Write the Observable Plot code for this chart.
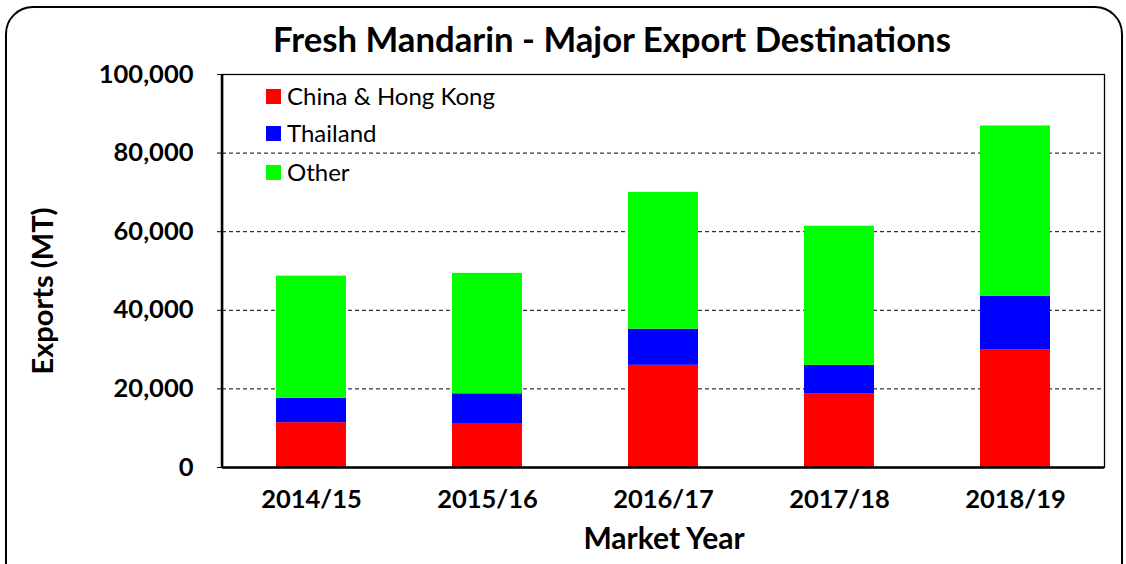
<!DOCTYPE html>
<html>
<head>
<meta charset="utf-8">
<script src="https://cdn.jsdelivr.net/npm/d3@7"></script>
<script src="https://cdn.jsdelivr.net/npm/@observablehq/plot@0.6"></script>
<style>
  html, body { margin: 0; padding: 0; background: #fff; }
  #wrap { position: relative; width: 1126px; height: 564px; overflow: hidden; font-family: Lato, "Open Sans", sans-serif; }
  #border { position: absolute; left: 5px; top: 6px; width: 1118px; height: 600px; border: 2.5px solid #000; border-radius: 28px; box-sizing: border-box; pointer-events: none; }
  #chart { position: absolute; left: 0; top: 0; }
  .t { position: absolute; color: #000; white-space: nowrap; line-height: 1; }
  #title { left: 0; width: 1224px; text-align: center; top: 22px; font-size: 34.7px; font-weight: 700; }
  #xlabel { left: 0; width: 1328px; text-align: center; top: 522px; font-size: 30px; font-weight: 700; }
  #ylabel { left: 41px; top: 291px; font-size: 29px; font-weight: 700; transform: translate(-50%, -50%) rotate(-90deg); }
  .leg { position: absolute; left: 266px; font-size: 24px; line-height: 1.2; display: flex; align-items: center; }
  .sw { width: 15px; height: 15px; margin-right: 6px; }
</style>
</head>
<body>
<div id="wrap">
  <div id="chart"></div>
  <div id="border"></div>
  <div class="t" id="title">Fresh Mandarin - Major Export Destinations</div>
  <div class="t" id="xlabel">Market Year</div>
  <div class="t" id="ylabel">Exports (MT)</div>
  <div id="legend"></div>
</div>
<script>
const years = ["2014/15", "2015/16", "2016/17", "2017/18", "2018/19"];
const series = ["China & Hong Kong", "Thailand", "Other"];
const colors = ["#ff0000", "#0000ff", "#00ff00"];
const chinaHK = [11400, 11200, 26000, 18800, 30000];
const thailand = [6200, 7550, 9200, 7200, 13600];
const other = [31100, 30650, 34800, 35400, 43300];
const yTicks = [0, 20000, 40000, 60000, 80000, 100000];
const gridTicks = [20000, 40000, 60000, 80000];

const values = [chinaHK, thailand, other];
const data = [];
years.forEach((yr, i) => {
  series.forEach((s, j) => data.push({year: yr, series: s, value: values[j][i]}));
});

const leftLine = (index, scales, vals, dims) => {
  const ns = "http://www.w3.org/2000/svg";
  const l = document.createElementNS(ns, "line");
  l.setAttribute("x1", dims.marginLeft);
  l.setAttribute("x2", dims.marginLeft);
  l.setAttribute("y1", dims.marginTop);
  l.setAttribute("y2", dims.height - dims.marginBottom + 1);
  l.setAttribute("stroke", "#000");
  l.setAttribute("stroke-width", 2.5);
  return l;
};

const chart = Plot.plot({
  width: 1126,
  height: 564,
  marginLeft: 222,
  marginRight: 22,
  marginTop: 74,
  marginBottom: 97,
  style: {fontFamily: "Lato, 'Open Sans', sans-serif", fontSize: "25.5px", fontWeight: "700", color: "#000", background: "transparent"},
  x: {domain: years, paddingInner: 0.6, paddingOuter: 0.3, label: null, tickSize: 0, tickPadding: 22},
  y: {domain: [0, 100000], ticks: yTicks, tickFormat: d3.format(","), label: null, tickSize: 5, tickPadding: 24},
  color: {domain: series, range: colors},
  marks: [
    Plot.ruleY(gridTicks, {stroke: "#000", strokeWidth: 1, strokeDasharray: "4,3"}),
    Plot.barY(data, {x: "year", y: "value", fill: "series", order: series}),
    Plot.frame({stroke: "#000", strokeWidth: 1.3}),
    Plot.ruleY([0], {stroke: "#000", strokeWidth: 2.5}),
    leftLine
  ]
});
document.getElementById("chart").appendChild(chart);

const legend = document.getElementById("legend");
const legTops = [82, 119, 158];
series.forEach((s, j) => {
  const d = document.createElement("div");
  d.className = "leg";
  d.style.top = legTops[j] + "px";
  d.innerHTML = `<div class="sw" style="background:${colors[j]}"></div><span></span>`;
  d.querySelector("span").textContent = s;
  legend.appendChild(d);
});
</script>
</body>
</html>
